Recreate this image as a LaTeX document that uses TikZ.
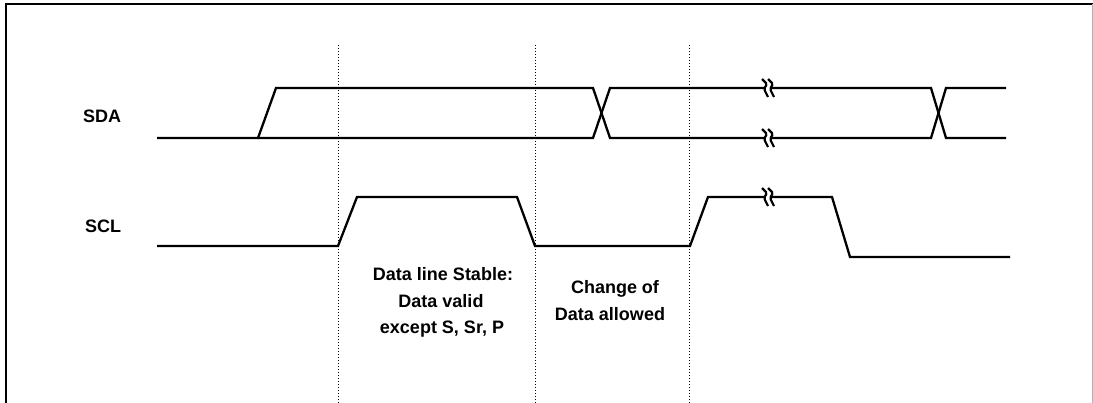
\documentclass[tikz,border=0pt]{standalone}
\usepackage{fontspec}
\setmainfont{Liberation Sans}
\begin{document}
\begin{tikzpicture}[x=1pt,y=-1pt,
  sig/.style={line width=2.3pt,line join=miter},
  guide/.style={line width=1pt,dash pattern=on 1pt off 2pt},
  lbl/.style={font=\fontsize{18}{26}\selectfont\bfseries,inner sep=0pt},
  wavebreak/.pic={
    \fill[white] (-3,-4) rectangle (2,4);
    \draw[line width=2.2pt,rounded corners=1.5pt] (-6,-9) -- (-1,-4) -- (-4,1) -- (0,9);
    \draw[line width=2.2pt,rounded corners=1.5pt] (0,-9) -- (5,-4) -- (2,1) -- (6,9);
  }]
\useasboundingbox (0,0) rectangle (1093,403);
% frame
\draw[line width=2pt] (6,403) -- (6,4) -- (1093,4);
\draw[black!30,line width=1pt] (1092,4) -- (1092,403);
% guides
\draw[guide] (338,45) -- (338,403);
\draw[guide] (535,45) -- (535,403);
\draw[guide] (689,45) -- (689,403);
% SDA
\draw[sig] (157,138) -- (258,138) -- (276,88) -- (593,88) -- (610,138) -- (931,138) -- (946,88) -- (1006,88);
\draw[sig] (258,138) -- (593,138) -- (610,88) -- (931,88) -- (946,138) -- (1006,138);
% SCL
\draw[sig] (157,246) -- (338,246) -- (357,197) -- (517,197) -- (535,246) -- (690,246) -- (708,197) -- (832,197) -- (850,257) -- (1010,257);
% breaks
\pic at (768,88) {wavebreak};
\pic at (768,138) {wavebreak};
\pic at (768,197) {wavebreak};
% labels
\node[lbl,anchor=base west] (sda) at (83,123) {SDA};
\node[lbl,anchor=base west] (scl) at (85,233) {SCL};
\node[lbl,anchor=base] (t1) at (443,281) {Data line Stable:};
\node[lbl,anchor=base] (t2) at (441,307.5) {Data valid};
\node[lbl,anchor=base] (t3) at (442,334) {except S, Sr, P};
\node[lbl,anchor=base] (t4) at (615,294) {Change of};
\node[lbl,anchor=base] (t5) at (610,321) {Data allowed};
\end{tikzpicture}
\end{document}
